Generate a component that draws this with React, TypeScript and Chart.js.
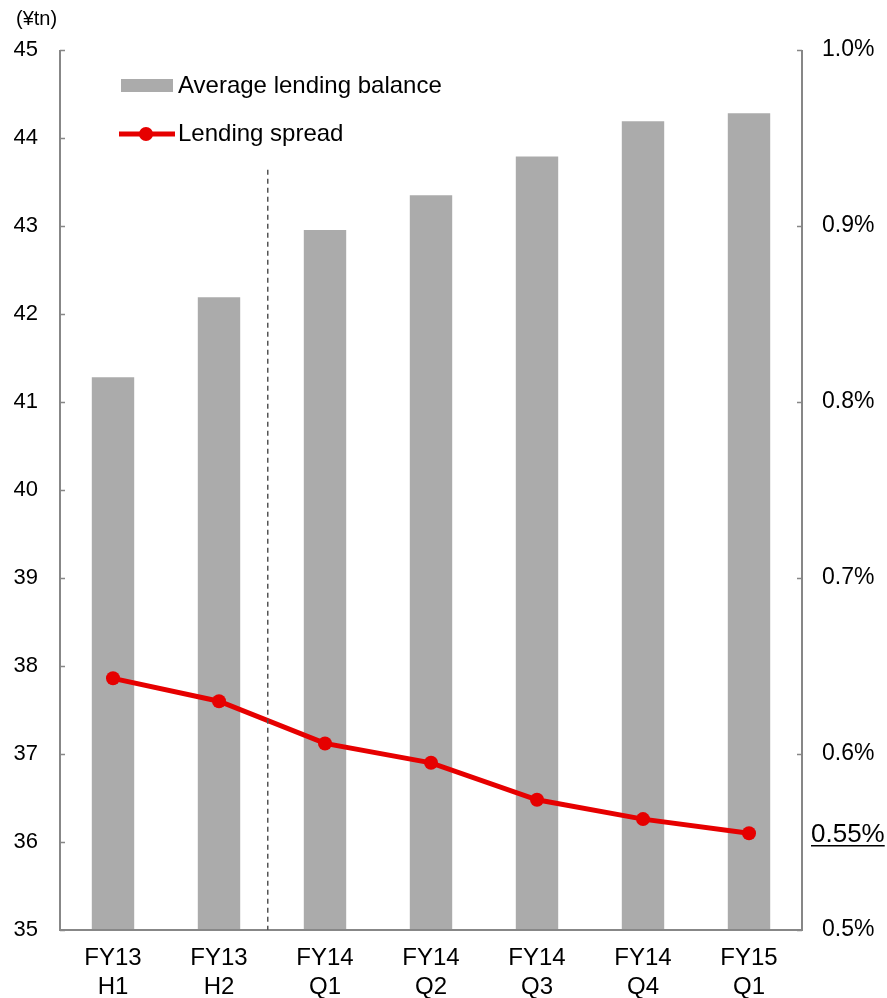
import React, { useEffect, useRef } from "react";
import { Chart, registerables } from "chart.js";

Chart.register(...registerables);

const categories: string[][] = [
  ["FY13", "H1"],
  ["FY13", "H2"],
  ["FY14", "Q1"],
  ["FY14", "Q2"],
  ["FY14", "Q3"],
  ["FY14", "Q4"],
  ["FY15", "Q1"],
];
const lendingBalance: number[] = [41.28, 42.19, 42.955, 43.35, 43.79, 44.19, 44.28];
const lendingSpread: number[] = [0.643, 0.630, 0.606, 0.595, 0.574, 0.563, 0.555];
const leftTicks = { min: 35, max: 45, step: 1 };
const rightTicks = { min: 0.5, max: 1.0, step: 0.1 };
const unitLabel = "(¥tn)";
const lastSpreadLabel = "0.55%";
const seriesNames = ["Average lending balance", "Lending spread"];

const FONT = "Arial, 'Liberation Sans', Helvetica, sans-serif";
const BAR_COLOR = "#ABABAB";
const LINE_COLOR = "#E60000";
const AXIS_COLOR = "#878787";

const customPlugin = {
  id: "custom",
  afterDatasetsDraw(chart: any) {
    const ctx = chart.ctx;
    const area = chart.chartArea;
    const x = chart.scales.x;
    const y = chart.scales.y;
    const y1 = chart.scales.y1;
    ctx.save();
    // axis lines
    ctx.strokeStyle = AXIS_COLOR;
    ctx.lineWidth = 2;
    ctx.beginPath();
    ctx.moveTo(area.left, area.top);
    ctx.lineTo(area.left, area.bottom);
    ctx.lineTo(area.right, area.bottom);
    ctx.lineTo(area.right, area.top);
    ctx.stroke();
    // inward ticks
    ctx.lineWidth = 1.5;
    y.ticks.forEach((t: any) => {
      const py = Math.round(y.getPixelForValue(t.value)) + 0.5;
      ctx.beginPath();
      ctx.moveTo(area.left, py);
      ctx.lineTo(area.left + 5, py);
      ctx.stroke();
    });
    y1.ticks.forEach((t: any) => {
      const py = Math.round(y1.getPixelForValue(t.value)) + 0.5;
      ctx.beginPath();
      ctx.moveTo(area.right, py);
      ctx.lineTo(area.right - 5, py);
      ctx.stroke();
    });
    // dashed divider between H2 and Q1
    const px = x.getPixelForValue(1) + 0.46 * (x.getPixelForValue(2) - x.getPixelForValue(1));
    ctx.strokeStyle = "#555555";
    ctx.lineWidth = 1.5;
    ctx.setLineDash([5, 4]);
    ctx.beginPath();
    ctx.moveTo(px, y.getPixelForValue(43.64));
    ctx.lineTo(px, area.bottom);
    ctx.stroke();
    ctx.setLineDash([]);

    // unit label
    ctx.fillStyle = "#000";
    ctx.font = `20px ${FONT}`;
    ctx.textAlign = "left";
    ctx.textBaseline = "middle";
    ctx.fillText(unitLabel, 16, 19);

    // legend
    ctx.font = `24px ${FONT}`;
    ctx.fillStyle = BAR_COLOR;
    ctx.fillRect(121, 79, 52, 13);
    ctx.fillStyle = "#000";
    ctx.fillText(seriesNames[0], 178, 86);
    ctx.strokeStyle = LINE_COLOR;
    ctx.lineWidth = 5;
    ctx.beginPath();
    ctx.moveTo(119, 134);
    ctx.lineTo(175, 134);
    ctx.stroke();
    ctx.fillStyle = LINE_COLOR;
    ctx.beginPath();
    ctx.arc(146, 134, 7, 0, Math.PI * 2);
    ctx.fill();
    ctx.fillStyle = "#000";
    ctx.fillText(seriesNames[1], 178, 134);

    // last spread label, underlined
    const ly = y1.getPixelForValue(lendingSpread[lendingSpread.length - 1]);
    ctx.font = `26px ${FONT}`;
    ctx.textBaseline = "alphabetic";
    const lx = 811;
    const base = ly + 9;
    ctx.fillText(lastSpreadLabel, lx, base);
    const w = ctx.measureText(lastSpreadLabel).width;
    ctx.strokeStyle = "#000";
    ctx.lineWidth = 1.5;
    ctx.beginPath();
    ctx.moveTo(lx, base + 3.5);
    ctx.lineTo(lx + w, base + 3.5);
    ctx.stroke();
    ctx.restore();
  },
};

export default function App() {
  const ref = useRef<HTMLCanvasElement | null>(null);
  useEffect(() => {
    document.body.style.margin = "0";
    const canvas = ref.current;
    if (!canvas) return;
    const chart = new Chart(canvas, {
      type: "bar",
      data: {
        labels: categories as any,
        datasets: [
          {
            type: "line",
            label: seriesNames[1],
            data: lendingSpread,
            yAxisID: "y1",
            borderColor: LINE_COLOR,
            backgroundColor: LINE_COLOR,
            borderWidth: 5,
            pointRadius: 7,
            pointHoverRadius: 7,
            pointBackgroundColor: LINE_COLOR,
            pointBorderWidth: 0,
            tension: 0,
            order: 0,
          } as any,
          {
            type: "bar",
            label: seriesNames[0],
            data: lendingBalance,
            yAxisID: "y",
            backgroundColor: BAR_COLOR,
            barPercentage: 0.4,
            categoryPercentage: 1,
            order: 1,
          } as any,
        ],
      },
      options: {
        animation: false,
        responsive: false,
        maintainAspectRatio: false,
        layout: { padding: { top: 50, left: 0, right: 0, bottom: 0 } },
        plugins: { legend: { display: false }, tooltip: { enabled: false } },
        scales: {
          x: {
            offset: true,
            grid: { display: false, drawTicks: false },
            border: { display: false },
            ticks: {
              color: "#000",
              font: { family: FONT, size: 24 },
              padding: 14,
              maxRotation: 0,
              autoSkip: false,
            },
            afterFit: (s: any) => {
              s.height = 68;
            },
          },
          y: {
            position: "left",
            min: leftTicks.min,
            max: leftTicks.max,
            grid: { display: false, drawTicks: false },
            border: { display: false },
            ticks: {
              stepSize: leftTicks.step,
              color: "#000",
              font: { family: FONT, size: 22 },
              padding: 22,
            },
            afterFit: (s: any) => {
              s.width = 60;
            },
          },
          y1: {
            position: "right",
            min: rightTicks.min,
            max: rightTicks.max,
            grid: { display: false, drawTicks: false },
            border: { display: false },
            ticks: {
              stepSize: rightTicks.step,
              color: "#000",
              font: { family: FONT, size: 23 },
              padding: 20,
              callback: (v: any) => Number(v).toFixed(1) + "%",
            },
            afterFit: (s: any) => {
              s.width = 85;
            },
          },
        },
      },
      plugins: [customPlugin],
    });
    return () => chart.destroy();
  }, []);
  return (
    <div style={{ position: "absolute", left: 0, top: 0, width: 887, height: 998 }}>
      <canvas ref={ref} width={887} height={998} style={{ display: "block" }} />
    </div>
  );
}
